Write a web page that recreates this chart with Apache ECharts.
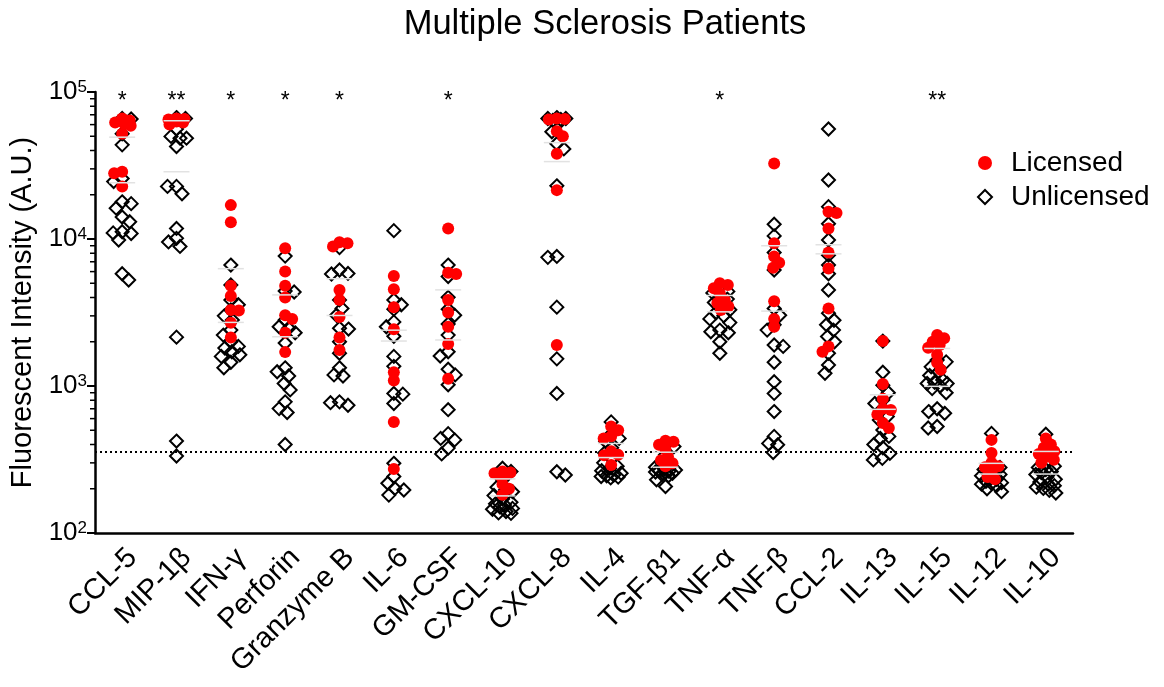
<!DOCTYPE html>
<html>
<head>
<meta charset="utf-8">
<title>Multiple Sclerosis Patients</title>
<script src="https://cdn.jsdelivr.net/npm/echarts@6/dist/echarts.min.js"></script>
<style>
  html, body { margin: 0; padding: 0; background: #ffffff; }
  #chart { width: 1164px; height: 687px; }
</style>
</head>
<body>
<div id="chart"></div>
<script>
// Cytokine panel, one column per analyte
const categories = ['CCL-5', 'MIP-1β', 'IFN-γ', 'Perforin', 'Granzyme B', 'IL-6', 'GM-CSF', 'CXCL-10', 'CXCL-8',
  'IL-4', 'TGF-β1', 'TNF-α', 'TNF-β', 'CCL-2', 'IL-13', 'IL-15', 'IL-12', 'IL-10'];

// Fluorescent intensity per patient, licensed group (one list per analyte)
const licensed = [
  [66000, 64000, 62000, 61000, 59000, 52000, 28700, 28000, 22800],
  [66000, 65500, 65000, 64500, 64000, 63000, 62000, 60000],
  [17000, 13000, 4800, 4090, 3290, 3260, 2690, 2140],
  [8640, 6000, 4800, 4000, 3030, 2860, 2300, 1700],
  [9500, 9350, 8900, 4500, 3850, 2950, 2140, 1760],
  [5600, 4550, 3430, 2430, 1240, 1090, 570, 273],
  [11800, 5900, 5780, 3850, 3160, 2530, 1930, 1120],
  [262, 258, 255, 250, 245, 215, 200, 182],
  [66000, 65500, 65000, 54000, 50000, 38000, 21500, 1900],
  [530, 500, 455, 440, 360, 340, 338, 290],
  [425, 418, 398, 370, 330, 312, 298, 285],
  [5000, 4870, 4620, 4260, 3850, 3670, 3480, 3290],
  [32600, 9350, 7610, 6900, 6370, 3770, 2860, 2530],
  [15300, 15000, 11800, 8080, 6290, 3370, 1860, 1710],
  [2020, 1030, 820, 700, 687, 640, 560, 518],
  [2220, 2110, 2000, 1900, 1820, 1630, 1440, 1290],
  [430, 350, 300, 285, 280, 265, 240, 232],
  [440, 400, 380, 360, 345, 330, 315, 300]
];

// Fluorescent intensity per patient, unlicensed group
const unlicensed = [
  [66000, 65500, 52000, 43700, 25800, 24600, 17900, 17400, 16200, 14100, 13100, 11200, 11000, 10900, 9840, 5800, 5260],
  [67000, 66000, 56000, 49900, 48500, 48500, 42600, 22800, 22800, 20300, 11800, 10100, 9550, 8900, 2150, 422, 334],
  [6650, 4870, 3850, 3570, 3290, 3000, 2810, 2400, 2220, 2000, 1860, 1810, 1710, 1630, 1590, 1450, 1330],
  [7650, 4420, 4360, 2810, 2530, 2470, 2300, 1960, 1330, 1250, 1170, 1040, 940, 780, 702, 660, 400],
  [8740, 6150, 5830, 5780, 3850, 3370, 3030, 2470, 2440, 2000, 1670, 1330, 1190, 1170, 780, 770, 740],
  [11400, 3850, 3570, 3330, 2730, 2530, 2180, 1590, 1360, 890, 880, 760, 298, 242, 218, 201, 196, 181],
  [6650, 5560, 4010, 3330, 3030, 2640, 2220, 1710, 1600, 1300, 1190, 1020, 690, 474, 440, 430, 378, 345],
  [276, 262, 230, 205, 196, 191, 180, 170, 162, 158, 155, 150, 147, 145, 140, 137, 136],
  [67000, 66000, 66000, 65000, 64000, 60000, 53600, 44500, 41000, 23000, 7610, 7500, 3440, 1530, 890, 261, 248],
  [570, 470, 440, 420, 380, 350, 320, 300, 285, 275, 265, 255, 248, 245, 242, 240, 237],
  [400, 387, 340, 300, 285, 280, 272, 268, 265, 263, 260, 258, 255, 250, 245, 230, 207],
  [4700, 4400, 4300, 4100, 3900, 3700, 3500, 3300, 3150, 3000, 2860, 2700, 2400, 2340, 2300, 2000, 1670],
  [12600, 10500, 8080, 6150, 3370, 3030, 2610, 2400, 1900, 1860, 1450, 1070, 890, 670, 454, 407, 398, 353],
  [56000, 25200, 16600, 12700, 9840, 7760, 6650, 5800, 4500, 3130, 2800, 2610, 2400, 2170, 2000, 1670, 1390, 1220],
  [2020, 1240, 1010, 900, 804, 760, 700, 620, 587, 502, 454, 440, 400, 380, 348, 322, 314],
  [1500, 1460, 1350, 1250, 1180, 1100, 1060, 1040, 1040, 1000, 960, 900, 700, 670, 652, 530, 518],
  [476, 290, 279, 270, 262, 258, 250, 245, 240, 232, 225, 220, 218, 215, 210, 200, 191],
  [470, 300, 285, 279, 270, 262, 258, 250, 240, 232, 222, 215, 210, 205, 201, 195, 187]
];

// Significance of the licensed vs unlicensed comparison
const significance = ['*', '**', '*', '*', '*', '', '*', '', '', '', '', '*', '', '', '', '**', '', ''];

// Assay detection limit (dotted line) and the y range
const detectionLimit = 355;
const yRange = [100, 100000];

const FONT = '"Liberation Sans", Arial, Helvetica, sans-serif';
const RED = '#ff0000';

const minorTickValues = [];
for (let e = Math.log10(yRange[0]); e < Math.log10(yRange[1]); e++) {
  for (let m = 2; m <= 9; m++) minorTickValues.push(m * Math.pow(10, e));
}

function meanOf(vals) { return vals.reduce((a, b) => a + b, 0) / vals.length; }
function rawPoints(groups) { return groups.flatMap((vals, i) => vals.map(v => [i, v])); }

const meanData = licensed.map((v, i) => [i, meanOf(v)]).concat(unlicensed.map((v, i) => [i, meanOf(v)]));
const sigData = significance.map((s, i) => [i, yRange[1], s]).filter(d => d[2]);

const chart = echarts.init(document.getElementById('chart'), null, { renderer: 'canvas' });

const option = {
  animation: false,
  backgroundColor: '#ffffff',
  textStyle: { fontFamily: FONT },
  title: {
    text: 'Multiple Sclerosis Patients',
    left: 601,
    textAlign: 'center',
    top: 3,
    padding: 4,
    textStyle: { fontFamily: FONT, fontSize: 34.5, fontWeight: 'normal', color: '#000' }
  },
  legend: {
    orient: 'vertical',
    left: 972,
    top: 144,
    itemWidth: 14,
    itemHeight: 14,
    itemGap: 6,
    selectedMode: false,
    textStyle: { fontFamily: FONT, fontSize: 28, color: '#000', padding: [0, 0, 0, 14] },
    data: [
      { name: 'Licensed', icon: 'circle', itemStyle: { color: RED, borderWidth: 0 } },
      { name: 'Unlicensed', icon: 'diamond', itemStyle: { color: 'rgba(0,0,0,0)', borderColor: '#000', borderWidth: 2 } }
    ]
  },
  grid: { left: 95, right: 91, top: 92, bottom: 154, containLabel: false },
  xAxis: [
    {
      type: 'category',
      data: categories,
      axisLine: { onZero: false, lineStyle: { color: '#000', width: 2.5 } },
      axisTick: { alignWithLabel: true, length: 8, lineStyle: { color: '#000', width: 2 } },
      axisLabel: { interval: 0, rotate: 45, margin: 10, verticalAlign: 'top', fontSize: 29, color: '#000', fontFamily: FONT },
      splitLine: { show: false }
    },
    { type: 'value', min: -0.5, max: categories.length - 0.5, show: false }
  ],
  yAxis: {
    type: 'log',
    logBase: 10,
    min: yRange[0],
    max: yRange[1],
    name: 'Fluorescent Intensity (A.U.)',
    nameLocation: 'middle',
    nameGap: 54,
    nameTextStyle: { fontFamily: FONT, fontSize: 29, color: '#000' },
    axisLine: { show: true, onZero: false, lineStyle: { color: '#000', width: 2.5 } },
    axisTick: { show: true, length: 8, lineStyle: { color: '#000', width: 2 } },
    splitLine: { show: false },
    axisLabel: {
      margin: 8,
      color: '#000',
      formatter: v => '{b|10}{e|' + Math.round(Math.log10(v)) + '}',
      rich: {
        b: { fontFamily: FONT, fontSize: 26, color: '#000' },
        e: { fontFamily: FONT, fontSize: 17, color: '#000', verticalAlign: 'top' }
      }
    }
  },
  series: [
    {
      id: 'unl',
      name: 'Unlicensed',
      type: 'scatter',
      xAxisIndex: 1,
      symbol: 'diamond',
      symbolSize: 13,
      itemStyle: { color: 'rgba(0,0,0,0)', borderColor: '#000', borderWidth: 2, opacity: 1 },
      data: rawPoints(unlicensed),
      z: 3
    },
    {
      id: 'lic',
      name: 'Licensed',
      type: 'scatter',
      xAxisIndex: 1,
      symbol: 'circle',
      symbolSize: 12,
      itemStyle: { color: RED, opacity: 1 },
      data: rawPoints(licensed),
      z: 4,
      markLine: {
        silent: true,
        symbol: 'none',
        label: { show: false },
        lineStyle: { color: '#000', width: 2, type: [2, 3] },
        data: [{ yAxis: detectionLimit }],
        z: 2
      }
    },
    {
      // group means
      type: 'custom',
      xAxisIndex: 1,
      data: meanData,
      z: 5,
      silent: true,
      renderItem: (params, api) => {
        const p = api.coord([api.value(0), api.value(1)]);
        return { type: 'line', shape: { x1: p[0] - 13, y1: p[1], x2: p[0] + 13, y2: p[1] },
          style: { stroke: '#e2e2e2', lineWidth: 1.5 } };
      }
    },
    {
      // minor ticks of the log axis
      type: 'custom',
      xAxisIndex: 1,
      data: minorTickValues.map(v => [-0.5, v]),
      clip: false,
      silent: true,
      renderItem: (params, api) => {
        const p = api.coord([api.value(0), api.value(1)]);
        return { type: 'line', shape: { x1: p[0] - 5, y1: p[1], x2: p[0], y2: p[1] },
          style: { stroke: '#000', lineWidth: 1.5 } };
      }
    },
    {
      // significance marks above the columns
      type: 'custom',
      xAxisIndex: 1,
      data: sigData,
      clip: false,
      silent: true,
      renderItem: (params, api) => {
        const p = api.coord([api.value(0), api.value(1)]);
        return { type: 'text', x: p[0], y: p[1] + 10,
          style: { text: sigData[params.dataIndex][2], fontFamily: FONT, fontSize: 23, fill: '#000',
            align: 'center', verticalAlign: 'middle' } };
      }
    }
  ]
};

chart.setOption(option);

// Spread each column's points sideways within a narrow band, overlapping when crowded
function swarm(groups, minDist, cap) {
  const unitPx = chart.convertToPixel({ xAxisIndex: 1 }, 1) - chart.convertToPixel({ xAxisIndex: 1 }, 0);
  const out = [];
  groups.forEach((vals, i) => {
    const pts = vals.map(v => ({ v, y: chart.convertToPixel({ yAxisIndex: 0 }, v) }))
      .sort((a, b) => a.y - b.y);
    const placed = [];
    let balance = 0;
    pts.forEach(p => {
      const pref = balance > 0 ? -1 : 1;
      let best = 0, bestScore = -1;
      for (let c = 0; c <= cap; c += 0.5) {
        for (const s of [pref, -pref]) {
          const dx = c * s;
          let score = minDist;
          placed.forEach(q => {
            score = Math.min(score, Math.hypot(dx - q.dx, p.y - q.y));
          });
          if (score > bestScore + 0.3) { bestScore = score; best = dx; }
        }
        if (bestScore >= minDist) break;
      }
      balance += Math.sign(best);
      placed.push({ dx: best, y: p.y });
      out.push([i + best / unitPx, p.v]);
    });
  });
  return out;
}

chart.setOption({
  series: [
    { id: 'unl', data: swarm(unlicensed, 9, 10) },
    { id: 'lic', data: swarm(licensed, 8, 9) }
  ]
});
</script>
</body>
</html>
